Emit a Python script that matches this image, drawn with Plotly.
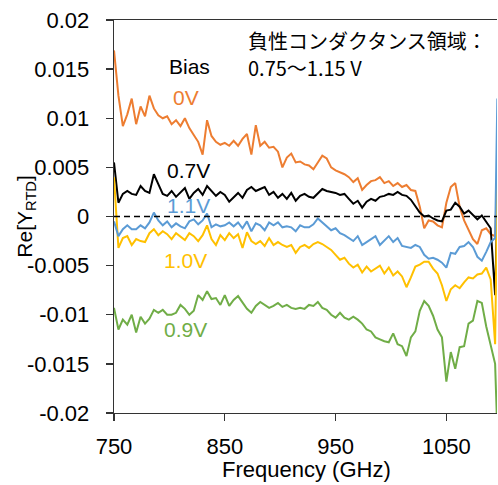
import plotly.graph_objects as go

freq_ghz = [750, 754, 758, 762, 766, 770, 774, 778, 782, 786,
            790, 794, 798, 802, 806, 810, 814, 818, 822, 826,
            830, 834, 838, 842, 846, 850, 854, 858, 862, 866,
            870, 874, 878, 882, 886, 890, 894, 898, 902, 906,
            910, 914, 918, 922, 926, 930, 934, 938, 942, 946,
            950, 954, 958, 962, 966, 970, 974, 978, 982, 986,
            990, 994, 998, 1002, 1006, 1010, 1014, 1018, 1022, 1026,
            1030, 1034, 1038, 1042, 1046, 1050, 1054, 1058, 1062, 1066,
            1070, 1074, 1078, 1082, 1086, 1090, 1094, 1096]

# values in units of 1e-3
re_0v_milli = [16.9, 12.3, 9.2, 10.4, 12.0, 9.4, 11.2, 10.2, 12.3, 11.0,
               10.3, 10.0, 10.2, 9.4, 9.8, 9.2, 10.0, 9.0, 8.3, 7.6,
               6.3, 9.8, 8.2, 7.6, 7.3, 7.5, 7.2, 7.7, 7.2, 7.9,
               8.4, 6.3, 9.3, 7.2, 7.6, 7.0, 7.1, 6.6, 5.0, 6.0,
               6.4, 5.5, 5.6, 5.3, 5.2, 4.8, 5.5, 6.2, 5.9, 5.0,
               4.7, 4.5, 4.3, 4.0, 3.5, 3.9, 2.7, 3.2, 3.6, 3.7,
               4.0, 3.4, 3.6, 3.1, 3.4, 3.0, 3.2, 2.7, 2.6, 1.0,
               -1.2, -0.4, -0.5, -0.9, -1.1, 1.4, 3.0, 3.4, 1.0, -0.4,
               -1.4, -2.3, -2.8, -1.4, -1.2, -1.8, -2.0, 4.5]

re_07v_milli = [5.5, 1.4, 2.3, 2.6, 2.3, 2.2, 3.1, 2.6, 2.4, 4.3,
                3.3, 2.3, 2.1, 2.6, 2.0, 2.5, 2.9, 1.8, 2.4, 2.8,
                2.2, 3.1, 2.6, 2.1, 2.5, 2.2, 1.5, 2.0, 2.4, 1.9,
                2.7, 3.0, 2.6, 2.8, 3.0, 2.2, 2.5, 1.9, 2.3, 1.8,
                2.4, 1.6, 2.1, 2.3, 2.0, 1.9, 2.4, 2.8, 2.6, 2.5,
                2.4, 2.2, 2.3, 1.8, 1.3, 1.6, 0.9, 1.5, 1.8, 1.6,
                2.0, 2.1, 2.3, 2.2, 2.5, 2.2, 2.1, 1.7, 1.1, 0.4,
                0.0, 0.1, -0.2, -0.4, -0.5, 0.6, 0.7, 1.4, 1.0, 0.3,
                0.6, 0.2, -0.3, 0.1, -0.6, -1.2, -8.0, 1.0]

re_09v_milli = [-9.3, -11.5, -10.5, -11.0, -10.0, -11.8, -10.2, -10.9, -10.4, -9.5,
                -9.8, -9.5, -10.0, -10.0, -9.8, -9.0, -9.4, -10.0, -9.6, -8.0,
                -8.5, -7.6, -8.4, -8.3, -9.0, -8.0, -9.1, -8.5, -8.1, -8.8,
                -9.4, -9.8, -9.1, -8.7, -9.0, -9.3, -9.1, -8.8, -9.2, -9.0,
                -9.3, -9.4, -9.3, -9.4, -9.0, -9.1, -8.7, -9.3, -9.5, -10.0,
                -10.3, -9.8, -10.3, -10.5, -10.2, -10.5, -10.9, -11.5, -11.7, -12.3,
                -12.5, -12.7, -12.8, -11.9, -13.0, -13.2, -14.2, -12.3, -11.7, -9.6,
                -8.6, -9.1, -10.1, -11.5, -12.3, -16.8, -13.8, -15.5, -13.3, -13.2,
                -10.9, -10.6, -8.6, -8.8, -11.2, -13.0, -15.0, -22.0]

re_10v_milli = [4.0, -3.2, -2.2, -2.0, -2.9, -2.3, -2.5, -2.6, -1.7, -1.3,
                -1.9, -1.5, -1.8, -2.3, -1.7, -2.1, -2.4, -1.7, -2.0, -2.5,
                -1.9, -0.9, -2.3, -2.9, -1.9, -2.4, -1.7, -2.2, -1.8, -3.2,
                -1.6, -2.5, -2.8, -2.5, -3.0, -2.2, -2.9, -2.6, -2.9, -3.1,
                -2.9, -3.7, -3.1, -2.9, -3.2, -2.8, -2.6, -2.8, -3.1, -3.4,
                -3.9, -4.4, -4.2, -4.8, -5.2, -4.9, -5.7, -5.1, -5.6, -5.3,
                -5.0, -5.8, -5.2, -6.0, -5.6, -6.1, -7.2, -6.2, -5.1, -4.9,
                -4.6, -4.6, -5.3, -5.8, -7.0, -8.6, -7.4, -7.0, -7.3, -6.7,
                -6.2, -6.3, -5.9, -5.8, -5.2, -6.4, -13.0, 3.7]

re_11v_milli = [-0.5, -2.0, -1.3, -0.9, -1.3, -1.3, -0.9, -1.2, -0.6, 0.4,
                -0.4, -0.9, -0.5, -1.1, -0.7, -1.0, -1.2, -0.5, -0.3, -0.8,
                -0.4, 0.3, -1.1, -0.8, -1.0, -0.9, -0.6, -1.0, -0.6, -1.2,
                -0.5, -1.5, -0.7, -0.9, -1.4, -0.6, -0.9, -0.6, -1.1, -1.0,
                -1.1, -1.5, -0.9, -1.1, -1.1, -0.8, -0.2, -0.6, -0.9, -1.4,
                -1.2, -1.7, -1.9, -2.2, -2.5, -2.0, -2.9, -2.6, -2.3, -2.0,
                -2.9, -2.4, -2.0, -2.6, -2.2, -3.0, -3.1, -3.2, -2.9, -3.1,
                -3.9, -4.3, -4.2, -4.4, -4.7, -5.2, -3.7, -3.8, -3.1, -3.0,
                -2.6, -3.1, -4.1, -4.5, -3.6, -2.6, -2.2, 12.0]

zero_line_x = [750, 1096]
zero_line_y = [0, 0]

series_names = ["0V", "0.7V", "0.9V", "1.0V", "1.1V"]
series_milli = [re_0v_milli, re_07v_milli, re_09v_milli, re_10v_milli, re_11v_milli]
series_colors = ["#ED7D31", "#000000", "#70AD47", "#FFC000", "#5B9BD5"]

y_tickvals = [0.02, 0.015, 0.01, 0.005, 0, -0.005, -0.01, -0.015, -0.02]
y_ticktext = ["0.02", "0.015", "0.01", "0.005", "0", "-0.005", "-0.01", "-0.015", "-0.02"]
x_tickvals = [750, 850, 950, 1050]
x_ticktext = ["750", "850", "950", "1050"]

# label positions (frequency, value) for the series labels
label_pos = {"0V": (815, 0.0121), "0.7V": (817, 0.00464), "1.1V": (817, 0.00112),
             "1.0V": (814.5, -0.00444), "0.9V": (814.5, -0.01153)}

LATIN = "Liberation Sans, Arial, sans-serif"
CJK = "Noto Sans CJK JP"

fig = go.Figure()
for name, vals, col in zip(series_names, series_milli, series_colors):
    fig.add_trace(go.Scatter(x=freq_ghz, y=[v / 1000 for v in vals], mode="lines",
                             line=dict(color=col, width=2), name=name, showlegend=False))
fig.add_trace(go.Scatter(x=zero_line_x, y=zero_line_y, mode="lines",
                         line=dict(color="black", width=1.5, dash="6px,4px"), showlegend=False))

for name, col in zip(series_names, series_colors):
    fx, fy = label_pos[name]
    fig.add_annotation(x=fx, y=fy, xref="x", yref="y", text=name, showarrow=False,
                       font=dict(family=LATIN, size=21, color=col), xanchor="center", yanchor="middle")

fig.add_annotation(x=818, y=0.0153, xref="x", yref="y", text="Bias", showarrow=False,
                   font=dict(family=LATIN, size=21, color="black"), xanchor="center", yanchor="middle")
fig.add_annotation(x=(246 - 114) / 383, y=(413 - 40) / 393, xref="paper", yref="paper",
                   text="負性コンダクタンス領域：", showarrow=False,
                   font=dict(family=CJK, size=20, color="black"), xanchor="left", yanchor="middle")
fig.add_annotation(x=(246 - 114) / 383, y=(413 - 67) / 393, xref="paper", yref="paper",
                   text="0.75～1.15 V", showarrow=False,
                   font=dict(family=CJK, size=20, color="black"), xanchor="left", yanchor="middle")

fig.add_annotation(x=-0.232, y=0.5, xref="paper", yref="paper",
                   text="Re[Y<sub>RTD</sub>]", showarrow=False, textangle=-90,
                   font=dict(family=LATIN, size=21, color="black"), xanchor="center", yanchor="middle")
fig.add_annotation(x=0.503, y=(413 - 469) / 393, xref="paper", yref="paper",
                   text="Frequency (GHz)", showarrow=False,
                   font=dict(family=LATIN, size=22, color="black"), xanchor="center", yanchor="middle")

fig.update_xaxes(range=[750, 1095.7], tickvals=x_tickvals, ticktext=x_ticktext,
                 ticks="outside", ticklen=7, tickwidth=1.3, tickcolor="#333",
                 showline=True, linecolor="#333", linewidth=1.3, mirror=True,
                 showgrid=False, zeroline=False, ticklabelstandoff=6, automargin=False,
                 tickfont=dict(family=LATIN, size=22, color="black"))
fig.update_yaxes(range=[-0.02, 0.02], tickvals=y_tickvals, ticktext=y_ticktext,
                 ticks="outside", ticklen=7, tickwidth=1.3, tickcolor="#333",
                 showline=True, linecolor="#333", linewidth=1.3,
                 showgrid=False, zeroline=False, ticklabelstandoff=12, automargin=False,
                 tickfont=dict(family=LATIN, size=22, color="black"))

fig.update_layout(width=498, height=485, margin=dict(l=114, r=1, t=20, b=72, autoexpand=False),
                  paper_bgcolor="white", plot_bgcolor="white", showlegend=False)

fig.write_html("out.html", config={"displayModeBar": False, "staticPlot": True})

# remove the browser's default 8px page margin so the figure sits at the window origin
with open("out.html", "r", encoding="utf-8") as fh:
    page = fh.read()
page = page.replace("<head>", "<head><style>html,body{margin:0;padding:0;overflow:hidden;}</style>", 1)
with open("out.html", "w", encoding="utf-8") as fh:
    fh.write(page)
